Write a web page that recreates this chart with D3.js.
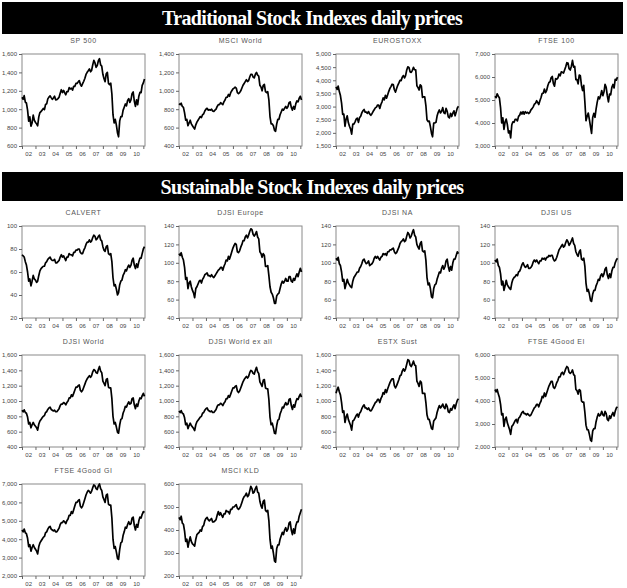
<!DOCTYPE html>
<html><head><meta charset="utf-8">
<script src="https://cdn.jsdelivr.net/npm/d3@7/dist/d3.min.js"></script>
<style>body{margin:0;background:#fff}</style>
</head><body><svg id="c" width="627" height="588"></svg>
<script>
// Monthly levels, Jan 2002 .. Feb 2011 (110 values each)
const sp500 = [
1130,1107,1147,1076,1067,990,870,916,815,850,936,880,
856,841,820,917,964,975,990,1008,996,1051,1058,1112,
1131,1145,1126,1107,1121,1141,1102,1104,1115,1130,1174,1212,
1181,1204,1181,1157,1192,1191,1234,1220,1229,1207,1249,1248,
1280,1281,1295,1311,1270,1250,1277,1304,1336,1378,1401,1418,
1438,1407,1421,1482,1531,1503,1455,1474,1527,1549,1481,1468,
1379,1331,1300,1386,1400,1280,1267,1283,1165,940,850,890,
826,740,700,873,919,919,987,1021,1057,1036,1096,1115,
1074,1104,1169,1187,1089,1031,1102,1049,1141,1183,1181,1258,
1286,1327];
const msciWorld = [
860,850,865,830,820,760,680,690,620,650,680,640,
620,600,585,630,660,680,700,720,710,740,750,780,
800,810,790,795,790,800,780,775,790,800,830,850,
850,870,860,850,880,900,930,930,960,940,980,1000,
1020,1030,1040,1030,980,970,980,1000,1030,1060,1080,1100,
1120,1100,1110,1150,1180,1180,1150,1140,1180,1200,1170,1160,
1060,1040,1000,1060,1070,990,980,990,900,720,640,640,
620,570,560,640,690,690,740,770,800,790,810,830,
810,830,870,880,820,790,830,800,860,890,880,920,
940,900];
const euroStoxx = [
3750,3650,3780,3570,3420,3130,2700,2710,2250,2520,2650,2390,
2250,2140,1950,2330,2330,2420,2520,2560,2400,2580,2630,2760,
2840,2890,2790,2790,2740,2810,2720,2670,2730,2810,2880,2950,
2980,3060,3060,2930,3080,3180,3330,3260,3430,3320,3450,3580,
3690,3770,3850,3840,3640,3550,3690,3810,3900,4000,3990,4120,
4180,4090,4180,4390,4510,4490,4320,4300,4380,4490,4400,4400,
3790,3720,3630,3830,3780,3350,3370,3370,3040,2500,2430,2450,
2240,1980,1850,2370,2380,2400,2640,2780,2870,2760,2820,2960,
2760,2730,2930,2820,2610,2570,2740,2620,2750,2840,2650,2790,
2950,3010];
const ftse100 = [
5165,5101,5272,5166,5086,4656,4000,4227,3722,4040,4169,3940,
3567,3655,3350,3926,4049,4031,4157,4161,4091,4288,4343,4477,
4391,4492,4386,4490,4431,4464,4413,4459,4571,4624,4703,4814,
4852,4968,4894,4801,4964,5113,5282,5297,5478,5317,5423,5619,
5760,5792,5965,6023,5724,5600,5928,5906,5961,6129,6048,6221,
6203,6172,6308,6449,6621,6608,6360,6303,6467,6722,6433,6457,
5880,5884,5702,6087,6054,5626,5412,5637,4902,4100,4288,4434,
4150,3830,3550,4244,4418,4249,4608,4909,5134,5045,5191,5413,
5189,5355,5680,5553,5188,4917,5258,5225,5549,5675,5528,5900,
5863,5994];
const calvert = [
75,74,73,69,66,60,52,54,48,52,57,54,
53,51,52,57,61,63,64,65,65,68,69,71,
72,73,71,70,70,71,68,68,69,70,73,75,
73,74,72,70,73,73,76,75,75,74,77,77,
79,79,80,80,77,76,76,79,81,84,86,86,
88,86,87,90,92,91,88,89,91,92,88,87,
82,79,78,82,83,76,75,76,69,55,48,49,
45,40,42,49,52,53,57,59,62,61,64,66,
64,66,70,72,66,63,67,64,69,72,72,76,
80,82];
const djsiEurope = [
110,108,111,106,103,95,82,84,72,78,80,74,
70,67,62,72,74,77,80,81,78,82,84,87,
88,89,86,86,85,87,85,84,86,88,90,92,
93,95,95,92,96,99,103,102,107,104,108,112,
116,119,121,120,112,111,113,117,120,124,124,128,
130,127,130,134,137,136,131,129,131,134,128,126,
112,110,106,110,108,96,96,97,86,74,68,66,
62,56,56,64,66,67,72,77,80,78,80,83,
80,80,85,85,80,79,83,81,85,88,85,90,
94,90];
const djsiNA = [
105,103,106,99,97,90,80,82,72,77,82,78,
76,74,73,80,84,86,88,90,90,94,96,99,
103,104,101,99,100,102,97,98,99,101,105,107,
105,107,105,103,106,107,110,109,110,108,112,112,
114,114,115,116,112,110,111,114,117,121,123,124,
126,123,124,129,133,131,127,129,133,136,130,128,
120,117,115,121,123,113,112,113,103,84,76,78,
72,63,62,72,76,77,82,86,90,89,94,97,
93,96,102,104,96,91,96,92,100,104,104,108,
112,110];
const djsiUS = [
103,101,104,97,95,88,76,80,70,75,81,76,
74,72,71,78,82,84,85,87,86,90,91,94,
98,100,97,95,96,98,94,94,95,97,101,103,
101,103,101,99,102,102,105,104,105,103,106,106,
108,107,108,108,104,102,103,106,110,114,116,118,
120,117,118,122,125,123,119,121,124,127,121,119,
112,109,107,112,114,104,103,105,96,78,69,71,
66,59,58,66,70,70,75,78,82,81,86,88,
85,88,93,95,87,83,88,84,91,95,95,100,
103,105];
const djsiWorld = [
880,860,885,850,840,790,700,720,650,690,720,690,
670,650,620,700,740,760,780,800,810,850,860,890,
910,920,890,880,870,880,860,860,880,900,940,960,
960,980,970,950,980,1000,1040,1040,1080,1060,1100,1140,
1180,1180,1200,1210,1140,1120,1140,1180,1220,1260,1290,1310,
1330,1310,1330,1380,1410,1400,1370,1360,1410,1450,1390,1370,
1260,1230,1200,1280,1290,1180,1170,1170,1030,800,700,720,
660,590,580,690,760,770,840,880,930,920,960,990,
960,970,1030,1040,950,900,960,930,1000,1040,1030,1070,
1100,1060];
const djsiWorldExAll = [
870,850,875,840,830,780,690,710,640,680,710,680,
660,640,615,690,730,750,770,790,800,840,850,880,
900,910,880,870,860,870,850,850,870,890,930,950,
950,970,960,940,970,990,1030,1030,1070,1050,1090,1130,
1170,1170,1190,1200,1130,1110,1130,1170,1210,1250,1280,1300,
1320,1300,1320,1370,1400,1390,1360,1350,1400,1440,1380,1360,
1250,1220,1190,1270,1280,1170,1160,1160,1020,790,690,710,
650,580,575,680,750,760,830,870,920,910,950,980,
950,960,1020,1030,940,890,950,920,990,1030,1020,1060,
1090,1050];
const estxSust = [
1100,1150,1180,1120,1080,980,850,870,720,790,830,760,
720,680,620,740,750,780,810,830,790,840,860,900,
930,950,910,910,890,910,880,870,890,920,950,980,
990,1020,1020,980,1030,1060,1110,1090,1150,1110,1160,1200,
1240,1270,1290,1290,1200,1170,1200,1240,1280,1330,1340,1390,
1420,1390,1420,1480,1540,1530,1470,1450,1480,1520,1470,1460,
1260,1230,1190,1260,1240,1100,1100,1100,980,820,760,760,
700,640,630,740,760,780,850,900,940,910,930,960,
920,900,960,930,860,850,900,880,920,950,900,960,
1010,1030];
const ftse4GoodEI = [
4500,4400,4500,4300,4150,3850,3400,3450,2900,3200,3300,3050,
2900,2750,2550,2900,2950,3050,3150,3200,3050,3250,3300,3400,
3500,3550,3450,3450,3400,3450,3400,3350,3400,3500,3600,3700,
3750,3850,3850,3750,3900,4000,4200,4150,4350,4200,4350,4500,
4650,4750,4850,4850,4600,4550,4650,4800,4900,5050,5050,5200,
5250,5150,5250,5400,5500,5450,5250,5200,5250,5350,5150,5100,
4500,4450,4300,4500,4450,4000,3950,3950,3500,2950,2750,2750,
2550,2300,2250,2700,2800,2800,3100,3300,3450,3350,3400,3550,
3400,3350,3550,3450,3200,3150,3350,3250,3400,3500,3350,3550,
3700,3750];
const ftse4GoodGI = [
4500,4400,4550,4350,4300,4050,3600,3700,3350,3550,3700,3550,
3450,3350,3200,3600,3800,3900,4000,4100,4150,4350,4400,4550,
4650,4700,4550,4500,4450,4500,4400,4400,4500,4600,4800,4900,
4900,5000,4950,4850,5000,5100,5300,5300,5500,5400,5600,5800,
6000,6000,6100,6150,5800,5700,5800,6000,6200,6400,6550,6650,
6600,6500,6600,6800,6950,6900,6750,6700,6900,7000,6750,6650,
6300,6150,6000,6400,6450,5900,5850,5850,5150,4000,3500,3600,
3300,2950,2900,3450,3800,3850,4200,4400,4650,4600,4800,4950,
4800,4850,5150,5200,4750,4500,4800,4650,5000,5200,5150,5350,
5500,5450];
const msciKLD = [
455,445,460,430,425,395,350,360,325,350,370,350,
340,335,330,360,380,385,390,400,395,415,420,440,
450,455,445,440,445,450,435,435,440,445,465,480,
465,475,465,455,470,470,485,480,480,470,490,490,
500,500,505,510,495,490,495,505,520,535,545,550,
560,545,550,570,590,580,560,565,580,590,565,560,
525,505,495,525,530,485,480,485,440,360,320,330,
300,265,260,320,335,335,360,375,390,380,400,410,
395,405,430,435,400,380,405,385,420,435,435,460,
475,490];

const yearLabels = ["02","03","04","05","06","07","08","09","10"];
const names = ["SP 500","MSCI World","EUROSTOXX","FTSE 100","CALVERT","DJSI Europe","DJSI NA","DJSI US",
  "DJSI World","DJSI World ex all","ESTX Sust","FTSE 4Good EI","FTSE 4Good GI","MSCI KLD"];
const series = [sp500,msciWorld,euroStoxx,ftse100,calvert,djsiEurope,djsiNA,djsiUS,
  djsiWorld,djsiWorldExAll,estxSust,ftse4GoodEI,ftse4GoodGI,msciKLD];
const yTicks = [
  [600,800,1000,1200,1400,1600],[400,600,800,1000,1200,1400],
  [1500,2000,2500,3000,3500,4000,4500,5000],[3000,4000,5000,6000,7000],
  [20,40,60,80,100],[40,60,80,100,120,140],[40,60,80,100,120,140],[40,60,80,100,120,140],
  [400,600,800,1000,1200,1400,1600],[400,600,800,1000,1200,1400,1600],[400,600,800,1000,1200,1400,1600],
  [2000,3000,4000,5000,6000],[2000,3000,4000,5000,6000,7000],[200,300,400,500,600]];
const bannerTitles = ["Traditional Stock Indexes daily prices","Sustainable Stock Indexes daily prices"];

// layout
const colX = [22,179,336,495], rowY = [54,226,355,484];
const W = 123, H = 92;

const svg = d3.select("#c");
const bannerY = [2,172], bannerH = [32,29];
bannerTitles.forEach((t,i)=>{
  svg.append("rect").attr("x",2).attr("y",bannerY[i]).attr("width",621).attr("height",bannerH[i]).attr("fill","#000");
  svg.append("text").attr("x",312).attr("y",bannerY[i]+bannerH[i]/2+7)
    .attr("text-anchor","middle").attr("fill","#fff")
    .style("font-family","'Liberation Serif','DejaVu Serif',serif").style("font-weight","bold")
    .style("font-size","20px").style("letter-spacing","-0.6px").text(t);
});

const dates = d3.timeMonth.range(new Date(2002,0,1), new Date(2011,2,1));
const t0 = new Date(2002,0,1), t1 = new Date(2011,1,15);
const yearStarts = d3.range(2002,2012).map(y=>new Date(y,0,1));

series.forEach((vals,k)=>{
  const col = k%4, row = Math.floor(k/4);
  const g = svg.append("g").attr("transform",`translate(${colX[col]},${rowY[row]})`);
  const x = d3.scaleTime().domain([t0,t1]).range([0,W]);
  const y = d3.scaleLinear().domain(d3.extent(yTicks[k])).range([H,0]);
  g.append("rect").attr("width",W).attr("height",H).attr("fill","none").attr("stroke","#8a8a8a").attr("stroke-width",1);
  const ya = g.append("g").call(d3.axisLeft(y).tickValues(yTicks[k]).tickFormat(d3.format(",")).tickSize(3).tickPadding(2));
  ya.select(".domain").remove();
  ya.selectAll("line").attr("stroke","#666");
  ya.selectAll("text").attr("fill","#444").style("font-family","'Liberation Sans',Arial,sans-serif").style("font-size","6px");
  const xa = g.append("g").attr("transform",`translate(0,${H})`)
    .call(d3.axisBottom(x).tickValues(yearStarts).tickFormat("").tickSize(3));
  xa.select(".domain").remove();
  xa.selectAll("line").attr("stroke","#666");
  g.selectAll(".yl").data(yearLabels).enter().append("text")
    .attr("x",(d,i)=>x(new Date(2002+i,6,1))).attr("y",H+10)
    .attr("text-anchor","middle").attr("fill","#444")
    .style("font-family","'Liberation Sans',Arial,sans-serif").style("font-size","6px").text(d=>d);
  g.append("text").attr("x",W/2).attr("y",-11).attr("text-anchor","middle").attr("fill","#555")
    .style("font-family","'Liberation Sans',Arial,sans-serif").style("font-size","7px").style("letter-spacing","0.6px")
    .text(names[k]);
  const line = d3.line().x((d,i)=>x(dates[i])).y(d=>y(d));
  g.append("path").datum(vals).attr("d",line).attr("fill","none").attr("stroke","#000").attr("stroke-width",1.7).attr("stroke-linejoin","round");
});
</script></body></html>
